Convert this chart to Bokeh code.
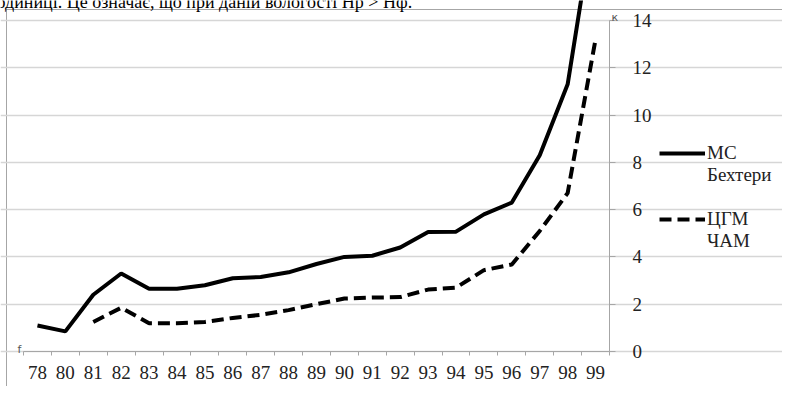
from bokeh.plotting import figure
from bokeh.models import (Range1d, LinearAxis, FixedTicker, Grid, Legend, LegendItem, Label)
from bokeh.embed import file_html
from bokeh.resources import INLINE

NaN = float("nan")

# ---- data ----
years = ["78", "80", "81", "82", "83", "84", "85", "86", "87", "88", "89",
         "90", "91", "92", "93", "94", "95", "96", "97", "98", "99"]
ms_bekhtery = [1.1, 0.85, 2.4, 3.3, 2.65, 2.65, 2.8, 3.1, 3.15, 3.35, 3.7,
               4.0, 4.05, 4.4, 5.05, 5.07, 5.8, 6.3, 8.3, 11.3, 18.7]
cgm_cham = [NaN, NaN, 1.25, 1.85, 1.2, 1.2, 1.25, 1.42, 1.55, 1.75, 2.0,
            2.24, 2.28, 2.3, 2.62, 2.7, 3.44, 3.68, 5.1, 6.7, 13.2]
y_ticks = [0, 2, 4, 6, 8, 10, 12, 14]
legend_lines = ["МС", "Бехтери", " ", "ЦГМ", "ЧАМ"]
header_text = "одиниці. Це означає, що при даній вологості Hр > Hф."
corner_top = "к"
corner_bottom = "f"

# ---- layout (picture pixels; canvas origin lands at picture (1, 1)) ----
OFF = 1
W, H = 782, 386
PL, PR, PT, PB = 24, 610, 21, 352          # chart area in picture pixels
GREY = "#a6a6a6"
SERIF = "Liberation Serif"
Y_MAX = 14
N = len(years)
X_END = N + 0.5

def data_x(px):
    return 0.5 + (px - PL) * N / (PR - PL)

def data_y(py):
    return (PB - py) * Y_MAX / (PB - PT)

xs = list(range(1, N + 1))

# the frame covers the whole canvas; axes are pinned at fixed data locations
p = figure(width=W, height=H, output_backend="svg", toolbar_location=None,
           x_range=Range1d(data_x(OFF), data_x(OFF + W)),
           y_range=Range1d(data_y(OFF + H), data_y(OFF)),
           x_axis_type=None, y_axis_type=None, min_border=0,
           min_border_left=0, min_border_right=0, min_border_top=0, min_border_bottom=0,
           outline_line_color=None,
           background_fill_alpha=0, border_fill_alpha=0)
# thin grey frame (left and top edges) drawn behind the transparent canvas
p.styles = {"background-color": "white",
            "box-shadow": "inset 6px 9px 0px 0px white, inset 7px 10px 0px 0px #a6a6a6"}

# value axis on the right of the chart area
yax = LinearAxis(ticker=FixedTicker(ticks=y_ticks, minor_ticks=[]),
                 fixed_location=X_END, bounds=(0, Y_MAX),
                 axis_line_color=GREY, axis_line_width=1,
                 major_tick_line_color=GREY, major_tick_in=0, major_tick_out=6,
                 minor_tick_line_color=None,
                 major_label_text_font=SERIF, major_label_text_font_size="19px",
                 major_label_text_color="#222222", major_label_standoff=17)
p.add_layout(yax, "right")
p.add_layout(Grid(dimension=1, ticker=yax.ticker, bounds=(0.5, X_END),
                  grid_line_color="#d6d6d6", grid_line_width=1.3))

# category axis: labels centred, ticks between categories
xax = LinearAxis(ticker=FixedTicker(ticks=xs, minor_ticks=[x + 0.5 for x in [0] + xs]),
                 fixed_location=0, bounds=(0.5, X_END),
                 major_label_overrides={x: y for x, y in zip(xs, years)},
                 axis_line_color=GREY, axis_line_width=1,
                 major_tick_line_color=None,
                 minor_tick_line_color=GREY, minor_tick_in=0, minor_tick_out=4,
                 major_label_text_font=SERIF, major_label_text_font_size="19px",
                 major_label_text_color="#222222", major_label_standoff=8)
p.add_layout(xax, "below")

r1 = p.line(xs, ms_bekhtery, line_color="black", line_width=4)
r2 = p.line(xs, cgm_cham, line_color="black", line_width=4, line_dash="12 6")

item_renderers = [[r1], [], [], [r2], []]
items = [LegendItem(label=lab, renderers=rs) for lab, rs in zip(legend_lines, item_renderers)]
legend = Legend(items=items, location=(660 - OFF, (OFF + H) - 253), orientation="vertical",
                border_line_color=None, background_fill_alpha=0,
                padding=0, margin=0, spacing=0,
                glyph_width=46, glyph_height=22, label_height=22, label_standoff=2,
                label_text_font=SERIF, label_text_font_size="19px",
                label_text_color="#222222")
p.add_layout(legend)

p.add_layout(Label(x=data_x(612), y=data_y(18), text=corner_top,
                   text_font="DejaVu Sans", text_font_size="11px",
                   text_color="#555555", text_baseline="alphabetic"))
p.add_layout(Label(x=data_x(18), y=data_y(350), text=corner_bottom,
                   text_font="DejaVu Sans", text_font_size="11px",
                   text_color="#555555", text_baseline="alphabetic"))
p.add_layout(Label(x=data_x(-3), y=data_y(2), text=header_text,
                   text_font=SERIF, text_font_size="18px", text_color="black",
                   text_baseline="alphabetic"))

open("out.html", "w").write(file_html(p, INLINE))
